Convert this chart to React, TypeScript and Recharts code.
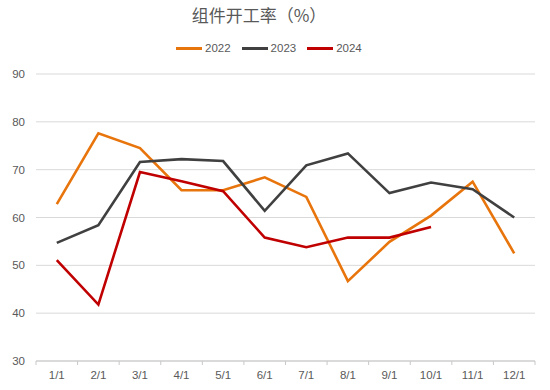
import React from "react";
import { LineChart, Line, XAxis, YAxis, CartesianGrid } from "recharts";

const months = ["1/1", "2/1", "3/1", "4/1", "5/1", "6/1", "7/1", "8/1", "9/1", "10/1", "11/1", "12/1"];
const y2022 = [62.8, 77.6, 74.5, 65.7, 65.7, 68.4, 64.3, 46.7, 54.9, 60.4, 67.5, 52.5];
const y2023 = [54.7, 58.4, 71.6, 72.2, 71.8, 61.4, 70.9, 73.4, 65.1, 67.3, 65.9, 60.0];
const y2024 = [51.1, 41.8, 69.5, 67.6, 65.5, 55.8, 53.8, 55.8, 55.8, 58.0, null, null];
const yTicks = [30, 40, 50, 60, 70, 80, 90];

const series = [
  { key: "2022", color: "#E8740C", values: y2022 },
  { key: "2023", color: "#404040", values: y2023 },
  { key: "2024", color: "#C00000", values: y2024 },
];

const data = months.map((m, i) => ({
  month: m,
  "2022": y2022[i],
  "2023": y2023[i],
  "2024": y2024[i],
}));

const FONT = "Liberation Sans, Arial, sans-serif";
const TICK_GAP = 13;

// Excel style: labels centred in the band, tick marks on the band edges
function MonthTick(props: any) {
  const { x, y, payload, index } = props;
  const half = payload.offset || 0;
  const axisY = y - TICK_GAP;
  const last = index === months.length - 1;
  return (
    <g>
      <line x1={x - half} x2={x - half} y1={axisY} y2={axisY + 4} stroke="#c8c8c8" />
      {last && <line x1={x + half} x2={x + half} y1={axisY} y2={axisY + 4} stroke="#c8c8c8" />}
      <text x={x} y={y} dy={5} textAnchor="middle" fontSize={11.5} fill="#595959" fontFamily={FONT}>
        {payload.value}
      </text>
    </g>
  );
}

export default function App() {
  return (
    <div style={{ position: "fixed", left: 0, top: 0, width: 550, height: 390, background: "#fff" }}>
      <div
        style={{
          position: "absolute",
          left: 0,
          width: 518,
          top: 3,
          textAlign: "center",
          fontSize: 17,
          color: "#595959",
          fontFamily: "'Noto Sans CJK SC', sans-serif",
          lineHeight: "24px",
        }}
      >
        组件开工率（%）
      </div>
      <div
        style={{
          position: "absolute",
          left: 176,
          top: 41,
          display: "flex",
          gap: 11,
          fontSize: 11.5,
          color: "#595959",
          fontFamily: FONT,
          lineHeight: "14px",
        }}
      >
        {series.map((s) => (
          <div key={s.key} style={{ display: "flex", alignItems: "center" }}>
            <span style={{ display: "inline-block", width: 26, height: 3, background: s.color, marginRight: 3 }} />
            {s.key}
          </div>
        ))}
      </div>
      <LineChart width={550} height={390} data={data} margin={{ top: 74, right: 15, bottom: 0, left: 0 }}>
        <CartesianGrid vertical={false} stroke="#d9d9d9" />
        <XAxis
          dataKey="month"
          scale="band"
          interval={0}
          height={29}
          axisLine={{ stroke: "#c8c8c8" }}
          tickLine={false}
          tickSize={0}
          tickMargin={TICK_GAP}
          tick={<MonthTick />}
        />
        <YAxis
          domain={[30, 90]}
          ticks={yTicks}
          width={36}
          axisLine={false}
          tickLine={false}
          tickSize={0}
          tickMargin={11}
          tick={{ fontSize: 11.5, fill: "#595959", fontFamily: FONT }}
        />
        {series.map((s) => (
          <Line
            key={s.key}
            dataKey={s.key}
            stroke={s.color}
            strokeWidth={2.6}
            dot={false}
            type="linear"
            isAnimationActive={false}
          />
        ))}
      </LineChart>
    </div>
  );
}
